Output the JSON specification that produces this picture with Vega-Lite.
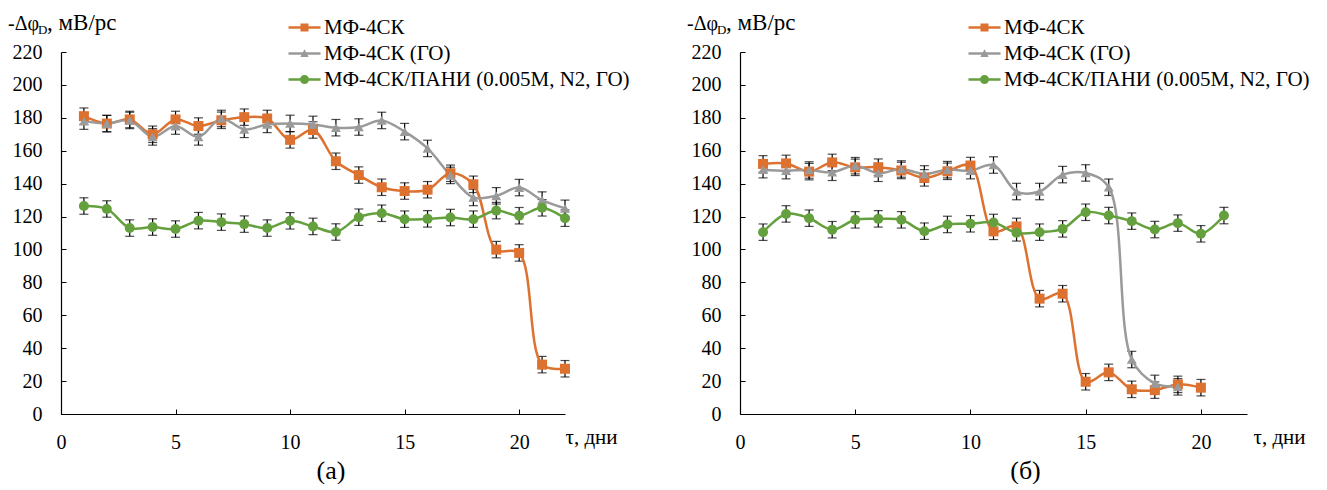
{
  "$schema": "https://vega.github.io/schema/vega-lite/v6.json",
  "padding": {"left": 8, "top": 12, "right": 0, "bottom": 0},
  "spacing": 57,
  "background": "white",
  "datasets": {
    "a": [
      {"s": "МФ-4СК", "t": 1, "v": 181, "lo": 176, "hi": 186},
      {"s": "МФ-4СК", "t": 2, "v": 176.5, "lo": 171.5, "hi": 181.5},
      {"s": "МФ-4СК", "t": 3, "v": 179, "lo": 174, "hi": 184},
      {"s": "МФ-4СК", "t": 4, "v": 170, "lo": 165, "hi": 175},
      {"s": "МФ-4СК", "t": 5, "v": 179, "lo": 174, "hi": 184},
      {"s": "МФ-4СК", "t": 6, "v": 175, "lo": 170, "hi": 180},
      {"s": "МФ-4СК", "t": 7, "v": 178.5, "lo": 173.5, "hi": 183.5},
      {"s": "МФ-4СК", "t": 8, "v": 180.4, "lo": 175.4, "hi": 185.4},
      {"s": "МФ-4СК", "t": 9, "v": 179.6, "lo": 174.6, "hi": 184.6},
      {"s": "МФ-4СК", "t": 10, "v": 166.6, "lo": 161.6, "hi": 171.6},
      {"s": "МФ-4СК", "t": 11, "v": 172.6, "lo": 167.6, "hi": 177.6},
      {"s": "МФ-4СК", "t": 12, "v": 153.6, "lo": 148.6, "hi": 158.6},
      {"s": "МФ-4СК", "t": 13, "v": 145.2, "lo": 140.2, "hi": 150.2},
      {"s": "МФ-4СК", "t": 14, "v": 137.8, "lo": 132.8, "hi": 142.8},
      {"s": "МФ-4СК", "t": 15, "v": 135.5, "lo": 130.5, "hi": 140.5},
      {"s": "МФ-4СК", "t": 16, "v": 136.3, "lo": 131.3, "hi": 141.3},
      {"s": "МФ-4СК", "t": 17, "v": 146.3, "lo": 141.3, "hi": 151.3},
      {"s": "МФ-4СК", "t": 18, "v": 139.6, "lo": 134.6, "hi": 144.6},
      {"s": "МФ-4СК", "t": 19, "v": 99.9, "lo": 94.9, "hi": 104.9},
      {"s": "МФ-4СК", "t": 20, "v": 97.9, "lo": 92.9, "hi": 102.9},
      {"s": "МФ-4СК", "t": 21, "v": 30, "lo": 25, "hi": 35},
      {"s": "МФ-4СК", "t": 22, "v": 27.5, "lo": 22.5, "hi": 32.5},
      {"s": "МФ-4СК (ГО)", "t": 1, "v": 178, "lo": 173, "hi": 183},
      {"s": "МФ-4СК (ГО)", "t": 2, "v": 176.5, "lo": 171.5, "hi": 181.5},
      {"s": "МФ-4СК (ГО)", "t": 3, "v": 178.4, "lo": 173.4, "hi": 183.4},
      {"s": "МФ-4СК (ГО)", "t": 4, "v": 168.4, "lo": 163.4, "hi": 173.4},
      {"s": "МФ-4СК (ГО)", "t": 5, "v": 175, "lo": 170, "hi": 180},
      {"s": "МФ-4СК (ГО)", "t": 6, "v": 168.4, "lo": 163.4, "hi": 173.4},
      {"s": "МФ-4СК (ГО)", "t": 7, "v": 179.6, "lo": 174.6, "hi": 184.6},
      {"s": "МФ-4СК (ГО)", "t": 8, "v": 173, "lo": 168, "hi": 178},
      {"s": "МФ-4СК (ГО)", "t": 9, "v": 176, "lo": 171, "hi": 181},
      {"s": "МФ-4СК (ГО)", "t": 10, "v": 176.6, "lo": 171.6, "hi": 181.6},
      {"s": "МФ-4СК (ГО)", "t": 11, "v": 176, "lo": 171, "hi": 181},
      {"s": "МФ-4СК (ГО)", "t": 12, "v": 174, "lo": 169, "hi": 179},
      {"s": "МФ-4СК (ГО)", "t": 13, "v": 174.4, "lo": 169.4, "hi": 179.4},
      {"s": "МФ-4СК (ГО)", "t": 14, "v": 178.4, "lo": 173.4, "hi": 183.4},
      {"s": "МФ-4СК (ГО)", "t": 15, "v": 171.6, "lo": 166.6, "hi": 176.6},
      {"s": "МФ-4СК (ГО)", "t": 16, "v": 161.4, "lo": 156.4, "hi": 166.4},
      {"s": "МФ-4СК (ГО)", "t": 17, "v": 145, "lo": 140, "hi": 150},
      {"s": "МФ-4СК (ГО)", "t": 18, "v": 131.6, "lo": 126.6, "hi": 136.6},
      {"s": "МФ-4СК (ГО)", "t": 19, "v": 132.6, "lo": 127.6, "hi": 137.6},
      {"s": "МФ-4СК (ГО)", "t": 20, "v": 137.6, "lo": 132.6, "hi": 142.6},
      {"s": "МФ-4СК (ГО)", "t": 21, "v": 130, "lo": 125, "hi": 135},
      {"s": "МФ-4СК (ГО)", "t": 22, "v": 125, "lo": 120, "hi": 130},
      {"s": "МФ-4СК/ПАНИ (0.005М, N2, ГО)", "t": 1, "v": 126.4, "lo": 121.4, "hi": 131.4},
      {"s": "МФ-4СК/ПАНИ (0.005М, N2, ГО)", "t": 2, "v": 124.6, "lo": 119.6, "hi": 129.6},
      {"s": "МФ-4СК/ПАНИ (0.005М, N2, ГО)", "t": 3, "v": 113, "lo": 108, "hi": 118},
      {"s": "МФ-4СК/ПАНИ (0.005М, N2, ГО)", "t": 4, "v": 113.6, "lo": 108.6, "hi": 118.6},
      {"s": "МФ-4СК/ПАНИ (0.005М, N2, ГО)", "t": 5, "v": 112.4, "lo": 107.4, "hi": 117.4},
      {"s": "МФ-4СК/ПАНИ (0.005М, N2, ГО)", "t": 6, "v": 117.5, "lo": 112.5, "hi": 122.5},
      {"s": "МФ-4СК/ПАНИ (0.005М, N2, ГО)", "t": 7, "v": 116.6, "lo": 111.6, "hi": 121.6},
      {"s": "МФ-4СК/ПАНИ (0.005М, N2, ГО)", "t": 8, "v": 115.4, "lo": 110.4, "hi": 120.4},
      {"s": "МФ-4СК/ПАНИ (0.005М, N2, ГО)", "t": 9, "v": 113, "lo": 108, "hi": 118},
      {"s": "МФ-4СК/ПАНИ (0.005М, N2, ГО)", "t": 10, "v": 117.4, "lo": 112.4, "hi": 122.4},
      {"s": "МФ-4СК/ПАНИ (0.005М, N2, ГО)", "t": 11, "v": 114, "lo": 109, "hi": 119},
      {"s": "МФ-4СК/ПАНИ (0.005М, N2, ГО)", "t": 12, "v": 110.6, "lo": 105.6, "hi": 115.6},
      {"s": "МФ-4СК/ПАНИ (0.005М, N2, ГО)", "t": 13, "v": 119.6, "lo": 114.6, "hi": 124.6},
      {"s": "МФ-4СК/ПАНИ (0.005М, N2, ГО)", "t": 14, "v": 122, "lo": 117, "hi": 127},
      {"s": "МФ-4СК/ПАНИ (0.005М, N2, ГО)", "t": 15, "v": 118.4, "lo": 113.4, "hi": 123.4},
      {"s": "МФ-4СК/ПАНИ (0.005М, N2, ГО)", "t": 16, "v": 118.6, "lo": 113.6, "hi": 123.6},
      {"s": "МФ-4СК/ПАНИ (0.005М, N2, ГО)", "t": 17, "v": 119.4, "lo": 114.4, "hi": 124.4},
      {"s": "МФ-4СК/ПАНИ (0.005М, N2, ГО)", "t": 18, "v": 118.4, "lo": 113.4, "hi": 123.4},
      {"s": "МФ-4СК/ПАНИ (0.005М, N2, ГО)", "t": 19, "v": 123.6, "lo": 118.6, "hi": 128.6},
      {"s": "МФ-4СК/ПАНИ (0.005М, N2, ГО)", "t": 20, "v": 120.5, "lo": 115.5, "hi": 125.5},
      {"s": "МФ-4СК/ПАНИ (0.005М, N2, ГО)", "t": 21, "v": 125.3, "lo": 120.3, "hi": 130.3},
      {"s": "МФ-4СК/ПАНИ (0.005М, N2, ГО)", "t": 22, "v": 119, "lo": 114, "hi": 124}
    ],
    "b": [
      {"s": "МФ-4СК", "t": 1, "v": 152, "lo": 147, "hi": 157},
      {"s": "МФ-4СК", "t": 2, "v": 152.3, "lo": 147.3, "hi": 157.3},
      {"s": "МФ-4СК", "t": 3, "v": 147.3, "lo": 142.3, "hi": 152.3},
      {"s": "МФ-4СК", "t": 4, "v": 152.9, "lo": 147.9, "hi": 157.9},
      {"s": "МФ-4СК", "t": 5, "v": 149.9, "lo": 144.9, "hi": 154.9},
      {"s": "МФ-4СК", "t": 6, "v": 150, "lo": 145, "hi": 155},
      {"s": "МФ-4СК", "t": 7, "v": 148, "lo": 143, "hi": 153},
      {"s": "МФ-4СК", "t": 8, "v": 143.5, "lo": 138.5, "hi": 148.5},
      {"s": "МФ-4СК", "t": 9, "v": 147.5, "lo": 142.5, "hi": 152.5},
      {"s": "МФ-4СК", "t": 10, "v": 151, "lo": 146, "hi": 156},
      {"s": "МФ-4СК", "t": 11, "v": 111, "lo": 106, "hi": 116},
      {"s": "МФ-4СК", "t": 12, "v": 114, "lo": 109, "hi": 119},
      {"s": "МФ-4СК", "t": 13, "v": 70.1, "lo": 65.1, "hi": 75.1},
      {"s": "МФ-4СК", "t": 14, "v": 73.1, "lo": 68.1, "hi": 78.1},
      {"s": "МФ-4СК", "t": 15, "v": 19.6, "lo": 14.6, "hi": 24.6},
      {"s": "МФ-4СК", "t": 16, "v": 25.3, "lo": 20.3, "hi": 30.3},
      {"s": "МФ-4СК", "t": 17, "v": 15, "lo": 10, "hi": 20},
      {"s": "МФ-4СК", "t": 18, "v": 14.5, "lo": 9.5, "hi": 19.5},
      {"s": "МФ-4СК", "t": 19, "v": 18, "lo": 13, "hi": 23},
      {"s": "МФ-4СК", "t": 20, "v": 16, "lo": 11, "hi": 21},
      {"s": "МФ-4СК (ГО)", "t": 1, "v": 148.5, "lo": 143.5, "hi": 153.5},
      {"s": "МФ-4СК (ГО)", "t": 2, "v": 147.9, "lo": 142.9, "hi": 152.9},
      {"s": "МФ-4СК (ГО)", "t": 3, "v": 148.3, "lo": 143.3, "hi": 153.3},
      {"s": "МФ-4СК (ГО)", "t": 4, "v": 146.9, "lo": 141.9, "hi": 151.9},
      {"s": "МФ-4СК (ГО)", "t": 5, "v": 150.9, "lo": 145.9, "hi": 155.9},
      {"s": "МФ-4СК (ГО)", "t": 6, "v": 146.3, "lo": 141.3, "hi": 151.3},
      {"s": "МФ-4СК (ГО)", "t": 7, "v": 148.9, "lo": 143.9, "hi": 153.9},
      {"s": "МФ-4СК (ГО)", "t": 8, "v": 145.9, "lo": 140.9, "hi": 150.9},
      {"s": "МФ-4СК (ГО)", "t": 9, "v": 148.5, "lo": 143.5, "hi": 153.5},
      {"s": "МФ-4СК (ГО)", "t": 10, "v": 147.9, "lo": 142.9, "hi": 152.9},
      {"s": "МФ-4СК (ГО)", "t": 11, "v": 151.3, "lo": 146.3, "hi": 156.3},
      {"s": "МФ-4СК (ГО)", "t": 12, "v": 135.2, "lo": 130.2, "hi": 140.2},
      {"s": "МФ-4СК (ГО)", "t": 13, "v": 135.2, "lo": 130.2, "hi": 140.2},
      {"s": "МФ-4СК (ГО)", "t": 14, "v": 145.5, "lo": 140.5, "hi": 150.5},
      {"s": "МФ-4СК (ГО)", "t": 15, "v": 146.5, "lo": 141.5, "hi": 151.5},
      {"s": "МФ-4СК (ГО)", "t": 16, "v": 137.8, "lo": 132.8, "hi": 142.8},
      {"s": "МФ-4СК (ГО)", "t": 17, "v": 33.1, "lo": 28.1, "hi": 38.1},
      {"s": "МФ-4СК (ГО)", "t": 18, "v": 18.6, "lo": 13.6, "hi": 23.6},
      {"s": "МФ-4СК (ГО)", "t": 19, "v": 16.5, "lo": 11.5, "hi": 21.5},
      {"s": "МФ-4СК/ПАНИ (0.005М, N2, ГО)", "t": 1, "v": 110.5, "lo": 105.5, "hi": 115.5},
      {"s": "МФ-4СК/ПАНИ (0.005М, N2, ГО)", "t": 2, "v": 121.6, "lo": 116.6, "hi": 126.6},
      {"s": "МФ-4СК/ПАНИ (0.005М, N2, ГО)", "t": 3, "v": 119, "lo": 114, "hi": 124},
      {"s": "МФ-4СК/ПАНИ (0.005М, N2, ГО)", "t": 4, "v": 112, "lo": 107, "hi": 117},
      {"s": "МФ-4СК/ПАНИ (0.005М, N2, ГО)", "t": 5, "v": 118, "lo": 113, "hi": 123},
      {"s": "МФ-4СК/ПАНИ (0.005М, N2, ГО)", "t": 6, "v": 118.6, "lo": 113.6, "hi": 123.6},
      {"s": "МФ-4СК/ПАНИ (0.005М, N2, ГО)", "t": 7, "v": 118, "lo": 113, "hi": 123},
      {"s": "МФ-4СК/ПАНИ (0.005М, N2, ГО)", "t": 8, "v": 111.1, "lo": 106.1, "hi": 116.1},
      {"s": "МФ-4СК/ПАНИ (0.005М, N2, ГО)", "t": 9, "v": 115.2, "lo": 110.2, "hi": 120.2},
      {"s": "МФ-4СК/ПАНИ (0.005М, N2, ГО)", "t": 10, "v": 115.6, "lo": 110.6, "hi": 120.6},
      {"s": "МФ-4СК/ПАНИ (0.005М, N2, ГО)", "t": 11, "v": 116.4, "lo": 111.4, "hi": 121.4},
      {"s": "МФ-4СК/ПАНИ (0.005М, N2, ГО)", "t": 12, "v": 110.1, "lo": 105.1, "hi": 115.1},
      {"s": "МФ-4СК/ПАНИ (0.005М, N2, ГО)", "t": 13, "v": 110.5, "lo": 105.5, "hi": 115.5},
      {"s": "МФ-4СК/ПАНИ (0.005М, N2, ГО)", "t": 14, "v": 112.5, "lo": 107.5, "hi": 117.5},
      {"s": "МФ-4СК/ПАНИ (0.005М, N2, ГО)", "t": 15, "v": 122.6, "lo": 117.6, "hi": 127.6},
      {"s": "МФ-4СК/ПАНИ (0.005М, N2, ГО)", "t": 16, "v": 120.6, "lo": 115.6, "hi": 125.6},
      {"s": "МФ-4СК/ПАНИ (0.005М, N2, ГО)", "t": 17, "v": 117.2, "lo": 112.2, "hi": 122.2},
      {"s": "МФ-4СК/ПАНИ (0.005М, N2, ГО)", "t": 18, "v": 112.1, "lo": 107.1, "hi": 117.1},
      {"s": "МФ-4СК/ПАНИ (0.005М, N2, ГО)", "t": 19, "v": 116, "lo": 111, "hi": 121},
      {"s": "МФ-4СК/ПАНИ (0.005М, N2, ГО)", "t": 20, "v": 109.5, "lo": 104.5, "hi": 114.5},
      {"s": "МФ-4СК/ПАНИ (0.005М, N2, ГО)", "t": 21, "v": 120.6, "lo": 115.6, "hi": 125.6}
    ]
  },
  "resolve": {
    "scale": {"color": "independent", "shape": "independent", "stroke": "independent"},
    "legend": {"color": "independent", "shape": "independent", "stroke": "independent"}
  },
  "hconcat": [
    {
      "width": 504,
      "height": 362,
      "data": {"name": "a"},
      "title": {"text": "(а)", "orient": "bottom", "anchor": "middle", "dx": 18, "offset": 6},
      "layer": [
        {
          "mark": {"type": "rule", "color": "black", "strokeWidth": 1.2},
          "encoding": {
            "x": {"field": "t", "type": "quantitative"},
            "y": {"field": "lo", "type": "quantitative", "axis": {"values": [0, 20, 40, 60, 80, 100, 120, 140, 160, 180, 200, 220], "title": null, "labelOverlap": false, "labelBound": false, "labelSeparation": 0, "labelPadding": 24}},
            "y2": {"field": "hi"}
          }
        },
        {
          "mark": {"type": "tick", "orient": "horizontal", "color": "black", "thickness": 1.2, "size": 9},
          "encoding": {
            "x": {"field": "t", "type": "quantitative"},
            "y": {"field": "lo", "type": "quantitative", "axis": {"values": [0, 20, 40, 60, 80, 100, 120, 140, 160, 180, 200, 220], "title": null, "labelOverlap": false, "labelBound": false, "labelSeparation": 0, "labelPadding": 24}}
          }
        },
        {
          "mark": {"type": "tick", "orient": "horizontal", "color": "black", "thickness": 1.2, "size": 9},
          "encoding": {
            "x": {"field": "t", "type": "quantitative"},
            "y": {"field": "hi", "type": "quantitative", "axis": {"values": [0, 20, 40, 60, 80, 100, 120, 140, 160, 180, 200, 220], "title": null, "labelOverlap": false, "labelBound": false, "labelSeparation": 0, "labelPadding": 24}}
          }
        },
        {
          "mark": {"type": "line", "interpolate": "catmull-rom", "strokeWidth": 2.5},
          "encoding": {
            "x": {"field": "t", "type": "quantitative", "scale": {"domain": [0, 22], "nice": false},
                  "axis": {"values": [0, 5, 10, 15, 20], "title": "τ, дни", "titleX": 504, "titleY": 29, "titleAlign": "left", "titleBaseline": "alphabetic", "titleAnchor": "start", "labelOverlap": false, "labelPadding": 23}},
            "y": {"field": "v", "type": "quantitative", "scale": {"domain": [0, 220], "nice": false},
                  "axis": {"values": [0, 20, 40, 60, 80, 100, 120, 140, 160, 180, 200, 220], "title": null, "labelOverlap": false, "labelBound": false, "labelSeparation": 0, "labelPadding": 24}},
            "stroke": {"field": "s", "type": "nominal",
                       "scale": {"domain": ["МФ-4СК/ПАНИ (0.005М, N2, ГО)", "МФ-4СК", "МФ-4СК (ГО)"], "range": ["#64A03E", "#DD7130", "#9A9A9A"]},
                       "legend": null}
          }
        },
        {
          "transform": [{"filter": {"field": "s", "equal": "МФ-4СК"}}],
          "mark": {"type": "point", "shape": "square", "filled": true, "opacity": 1, "size": 100, "color": "#DD7130"},
          "encoding": {"x": {"field": "t", "type": "quantitative"}, "y": {"field": "v", "type": "quantitative", "axis": {"values": [0, 20, 40, 60, 80, 100, 120, 140, 160, 180, 200, 220], "title": null, "labelOverlap": false, "labelBound": false, "labelSeparation": 0, "labelPadding": 24}}}
        },
        {
          "transform": [{"filter": {"field": "s", "equal": "МФ-4СК (ГО)"}}],
          "mark": {"type": "point", "shape": "triangle-up", "filled": true, "opacity": 1, "size": 100, "color": "#9A9A9A"},
          "encoding": {"x": {"field": "t", "type": "quantitative"}, "y": {"field": "v", "type": "quantitative", "axis": {"values": [0, 20, 40, 60, 80, 100, 120, 140, 160, 180, 200, 220], "title": null, "labelOverlap": false, "labelBound": false, "labelSeparation": 0, "labelPadding": 24}}}
        },
        {
          "transform": [{"filter": {"field": "s", "equal": "МФ-4СК/ПАНИ (0.005М, N2, ГО)"}}],
          "mark": {"type": "point", "shape": "circle", "filled": true, "opacity": 1, "size": 100, "color": "#64A03E"},
          "encoding": {"x": {"field": "t", "type": "quantitative"}, "y": {"field": "v", "type": "quantitative", "axis": {"values": [0, 20, 40, 60, 80, 100, 120, 140, 160, 180, 200, 220], "title": null, "labelOverlap": false, "labelBound": false, "labelSeparation": 0, "labelPadding": 24}}}
        },
        {
          "transform": [{"filter": "datum.t < 0"}],
          "mark": {"type": "point", "filled": true, "opacity": 1},
          "encoding": {
            "x": {"field": "t", "type": "quantitative"},
            "y": {"field": "v", "type": "quantitative", "axis": {"values": [0, 20, 40, 60, 80, 100, 120, 140, 160, 180, 200, 220], "title": null, "labelOverlap": false, "labelBound": false, "labelSeparation": 0, "labelPadding": 24}},
            "color": {"field": "s", "type": "nominal",
                      "scale": {"domain": ["МФ-4СК", "МФ-4СК (ГО)", "МФ-4СК/ПАНИ (0.005М, N2, ГО)"], "range": ["#DD7130", "#9A9A9A", "#64A03E"]},
                      "legend": {"orient": "none", "legendX": 233, "legendY": -35, "title": null, "rowPadding": 4}},
            "shape": {"field": "s", "type": "nominal",
                      "scale": {"domain": ["МФ-4СК", "МФ-4СК (ГО)", "МФ-4СК/ПАНИ (0.005М, N2, ГО)"],
                                "range": ["M-1.6,-0.125H1.6V0.125H-1.6Z M-0.4,-0.4H0.4V0.4H-0.4Z", "M-1.6,-0.125H1.6V0.125H-1.6Z M-0.42,0.36L0,-0.42L0.42,0.36Z", "M-1.6,-0.125H1.6V0.125H-1.6Z M-0.45,0A0.45,0.45 0 1,1 0.45,0A0.45,0.45 0 1,1 -0.45,0Z"]},
                      "legend": {"orient": "none", "legendX": 233, "legendY": -35, "title": null, "rowPadding": 4}}
          }
        },
        {
          "data": {"values": [{"label": "-Δφ"}]},
          "mark": {"type": "text", "align": "left", "baseline": "alphabetic", "fontSize": 20, "dx": -53, "dy": -22},
          "encoding": {"x": {"datum": 0, "type": "quantitative"}, "y": {"datum": 220, "type": "quantitative", "axis": {"values": [0, 20, 40, 60, 80, 100, 120, 140, 160, 180, 200, 220], "title": null, "labelOverlap": false, "labelBound": false, "labelSeparation": 0, "labelPadding": 24}}, "text": {"field": "label"}}
        },
        {
          "data": {"values": [{"label": "D"}]},
          "mark": {"type": "text", "align": "left", "baseline": "alphabetic", "fontSize": 13, "dx": -23, "dy": -18.5},
          "encoding": {"x": {"datum": 0, "type": "quantitative"}, "y": {"datum": 220, "type": "quantitative", "axis": {"values": [0, 20, 40, 60, 80, 100, 120, 140, 160, 180, 200, 220], "title": null, "labelOverlap": false, "labelBound": false, "labelSeparation": 0, "labelPadding": 24}}, "text": {"field": "label"}}
        },
        {
          "data": {"values": [{"label": ", мВ/рс"}]},
          "mark": {"type": "text", "align": "left", "baseline": "alphabetic", "fontSize": 23, "dx": -14, "dy": -22},
          "encoding": {"x": {"datum": 0, "type": "quantitative"}, "y": {"datum": 220, "type": "quantitative", "axis": {"values": [0, 20, 40, 60, 80, 100, 120, 140, 160, 180, 200, 220], "title": null, "labelOverlap": false, "labelBound": false, "labelSeparation": 0, "labelPadding": 24}}, "text": {"field": "label"}}
        }
      ]
    },
    {
      "width": 507,
      "height": 362,
      "data": {"name": "b"},
      "title": {"text": "(б)", "orient": "bottom", "anchor": "middle", "dx": 32, "offset": 6},
      "layer": [
        {
          "mark": {"type": "rule", "color": "black", "strokeWidth": 1.2},
          "encoding": {
            "x": {"field": "t", "type": "quantitative"},
            "y": {"field": "lo", "type": "quantitative", "axis": {"values": [0, 20, 40, 60, 80, 100, 120, 140, 160, 180, 200, 220], "title": null, "labelOverlap": false, "labelBound": false, "labelSeparation": 0, "labelPadding": 24}},
            "y2": {"field": "hi"}
          }
        },
        {
          "mark": {"type": "tick", "orient": "horizontal", "color": "black", "thickness": 1.2, "size": 9},
          "encoding": {
            "x": {"field": "t", "type": "quantitative"},
            "y": {"field": "lo", "type": "quantitative", "axis": {"values": [0, 20, 40, 60, 80, 100, 120, 140, 160, 180, 200, 220], "title": null, "labelOverlap": false, "labelBound": false, "labelSeparation": 0, "labelPadding": 24}}
          }
        },
        {
          "mark": {"type": "tick", "orient": "horizontal", "color": "black", "thickness": 1.2, "size": 9},
          "encoding": {
            "x": {"field": "t", "type": "quantitative"},
            "y": {"field": "hi", "type": "quantitative", "axis": {"values": [0, 20, 40, 60, 80, 100, 120, 140, 160, 180, 200, 220], "title": null, "labelOverlap": false, "labelBound": false, "labelSeparation": 0, "labelPadding": 24}}
          }
        },
        {
          "mark": {"type": "line", "interpolate": "catmull-rom", "strokeWidth": 2.5},
          "encoding": {
            "x": {"field": "t", "type": "quantitative", "scale": {"domain": [0, 22], "nice": false},
                  "axis": {"values": [0, 5, 10, 15, 20], "title": "τ, дни", "titleX": 513, "titleY": 29, "titleAlign": "left", "titleBaseline": "alphabetic", "titleAnchor": "start", "labelOverlap": false, "labelPadding": 23}},
            "y": {"field": "v", "type": "quantitative", "scale": {"domain": [0, 220], "nice": false},
                  "axis": {"values": [0, 20, 40, 60, 80, 100, 120, 140, 160, 180, 200, 220], "title": null, "labelOverlap": false, "labelBound": false, "labelSeparation": 0, "labelPadding": 24}},
            "stroke": {"field": "s", "type": "nominal",
                       "scale": {"domain": ["МФ-4СК/ПАНИ (0.005М, N2, ГО)", "МФ-4СК", "МФ-4СК (ГО)"], "range": ["#64A03E", "#DD7130", "#9A9A9A"]},
                       "legend": null}
          }
        },
        {
          "transform": [{"filter": {"field": "s", "equal": "МФ-4СК"}}],
          "mark": {"type": "point", "shape": "square", "filled": true, "opacity": 1, "size": 100, "color": "#DD7130"},
          "encoding": {"x": {"field": "t", "type": "quantitative"}, "y": {"field": "v", "type": "quantitative", "axis": {"values": [0, 20, 40, 60, 80, 100, 120, 140, 160, 180, 200, 220], "title": null, "labelOverlap": false, "labelBound": false, "labelSeparation": 0, "labelPadding": 24}}}
        },
        {
          "transform": [{"filter": {"field": "s", "equal": "МФ-4СК (ГО)"}}],
          "mark": {"type": "point", "shape": "triangle-up", "filled": true, "opacity": 1, "size": 100, "color": "#9A9A9A"},
          "encoding": {"x": {"field": "t", "type": "quantitative"}, "y": {"field": "v", "type": "quantitative", "axis": {"values": [0, 20, 40, 60, 80, 100, 120, 140, 160, 180, 200, 220], "title": null, "labelOverlap": false, "labelBound": false, "labelSeparation": 0, "labelPadding": 24}}}
        },
        {
          "transform": [{"filter": {"field": "s", "equal": "МФ-4СК/ПАНИ (0.005М, N2, ГО)"}}],
          "mark": {"type": "point", "shape": "circle", "filled": true, "opacity": 1, "size": 100, "color": "#64A03E"},
          "encoding": {"x": {"field": "t", "type": "quantitative"}, "y": {"field": "v", "type": "quantitative", "axis": {"values": [0, 20, 40, 60, 80, 100, 120, 140, 160, 180, 200, 220], "title": null, "labelOverlap": false, "labelBound": false, "labelSeparation": 0, "labelPadding": 24}}}
        },
        {
          "transform": [{"filter": "datum.t < 0"}],
          "mark": {"type": "point", "filled": true, "opacity": 1},
          "encoding": {
            "x": {"field": "t", "type": "quantitative"},
            "y": {"field": "v", "type": "quantitative", "axis": {"values": [0, 20, 40, 60, 80, 100, 120, 140, 160, 180, 200, 220], "title": null, "labelOverlap": false, "labelBound": false, "labelSeparation": 0, "labelPadding": 24}},
            "color": {"field": "s", "type": "nominal",
                      "scale": {"domain": ["МФ-4СК", "МФ-4СК (ГО)", "МФ-4СК/ПАНИ (0.005М, N2, ГО)"], "range": ["#DD7130", "#9A9A9A", "#64A03E"]},
                      "legend": {"orient": "none", "legendX": 234, "legendY": -35, "title": null, "rowPadding": 4}},
            "shape": {"field": "s", "type": "nominal",
                      "scale": {"domain": ["МФ-4СК", "МФ-4СК (ГО)", "МФ-4СК/ПАНИ (0.005М, N2, ГО)"],
                                "range": ["M-1.6,-0.125H1.6V0.125H-1.6Z M-0.4,-0.4H0.4V0.4H-0.4Z", "M-1.6,-0.125H1.6V0.125H-1.6Z M-0.42,0.36L0,-0.42L0.42,0.36Z", "M-1.6,-0.125H1.6V0.125H-1.6Z M-0.45,0A0.45,0.45 0 1,1 0.45,0A0.45,0.45 0 1,1 -0.45,0Z"]},
                      "legend": {"orient": "none", "legendX": 234, "legendY": -35, "title": null, "rowPadding": 4}}
          }
        },
        {
          "data": {"values": [{"label": "-Δφ"}]},
          "mark": {"type": "text", "align": "left", "baseline": "alphabetic", "fontSize": 20, "dx": -53, "dy": -22},
          "encoding": {"x": {"datum": 0, "type": "quantitative"}, "y": {"datum": 220, "type": "quantitative", "axis": {"values": [0, 20, 40, 60, 80, 100, 120, 140, 160, 180, 200, 220], "title": null, "labelOverlap": false, "labelBound": false, "labelSeparation": 0, "labelPadding": 24}}, "text": {"field": "label"}}
        },
        {
          "data": {"values": [{"label": "D"}]},
          "mark": {"type": "text", "align": "left", "baseline": "alphabetic", "fontSize": 13, "dx": -23, "dy": -18.5},
          "encoding": {"x": {"datum": 0, "type": "quantitative"}, "y": {"datum": 220, "type": "quantitative", "axis": {"values": [0, 20, 40, 60, 80, 100, 120, 140, 160, 180, 200, 220], "title": null, "labelOverlap": false, "labelBound": false, "labelSeparation": 0, "labelPadding": 24}}, "text": {"field": "label"}}
        },
        {
          "data": {"values": [{"label": ", мВ/рс"}]},
          "mark": {"type": "text", "align": "left", "baseline": "alphabetic", "fontSize": 23, "dx": -14, "dy": -22},
          "encoding": {"x": {"datum": 0, "type": "quantitative"}, "y": {"datum": 220, "type": "quantitative", "axis": {"values": [0, 20, 40, 60, 80, 100, 120, 140, 160, 180, 200, 220], "title": null, "labelOverlap": false, "labelBound": false, "labelSeparation": 0, "labelPadding": 24}}, "text": {"field": "label"}}
        }
      ]
    }
  ],
  "config": {
    "font": "Liberation Serif",
    "view": {"stroke": null},
    "axis": {
      "grid": false,
      "domainColor": "#000000",
      "domainWidth": 1.2,
      "tickColor": "#000000",
      "tickSize": -5,
      "tickWidth": 1,
      "labelColor": "#000000",
      "labelFont": "Liberation Serif",
      "labelFontSize": 20,
      "labelFlush": false,
      "titleFont": "Liberation Serif",
      "titleFontSize": 21,
      "titleFontWeight": "normal",
      "titleColor": "#000000"
    },
    "axisY": {"labelOverlap": false, "labelPadding": 24},
    "legend": {
      "labelFont": "Liberation Serif",
      "labelFontSize": 21,
      "labelColor": "#000000",
      "labelLimit": 400,
      "labelOffset": 9,
      "symbolSize": 400,
      "symbolStrokeWidth": 0,
      "padding": 0
    },
    "text": {"font": "Liberation Serif", "color": "#000000"},
    "title": {"font": "Liberation Serif", "fontSize": 26, "fontWeight": "normal", "color": "#000000"}
  }
}
